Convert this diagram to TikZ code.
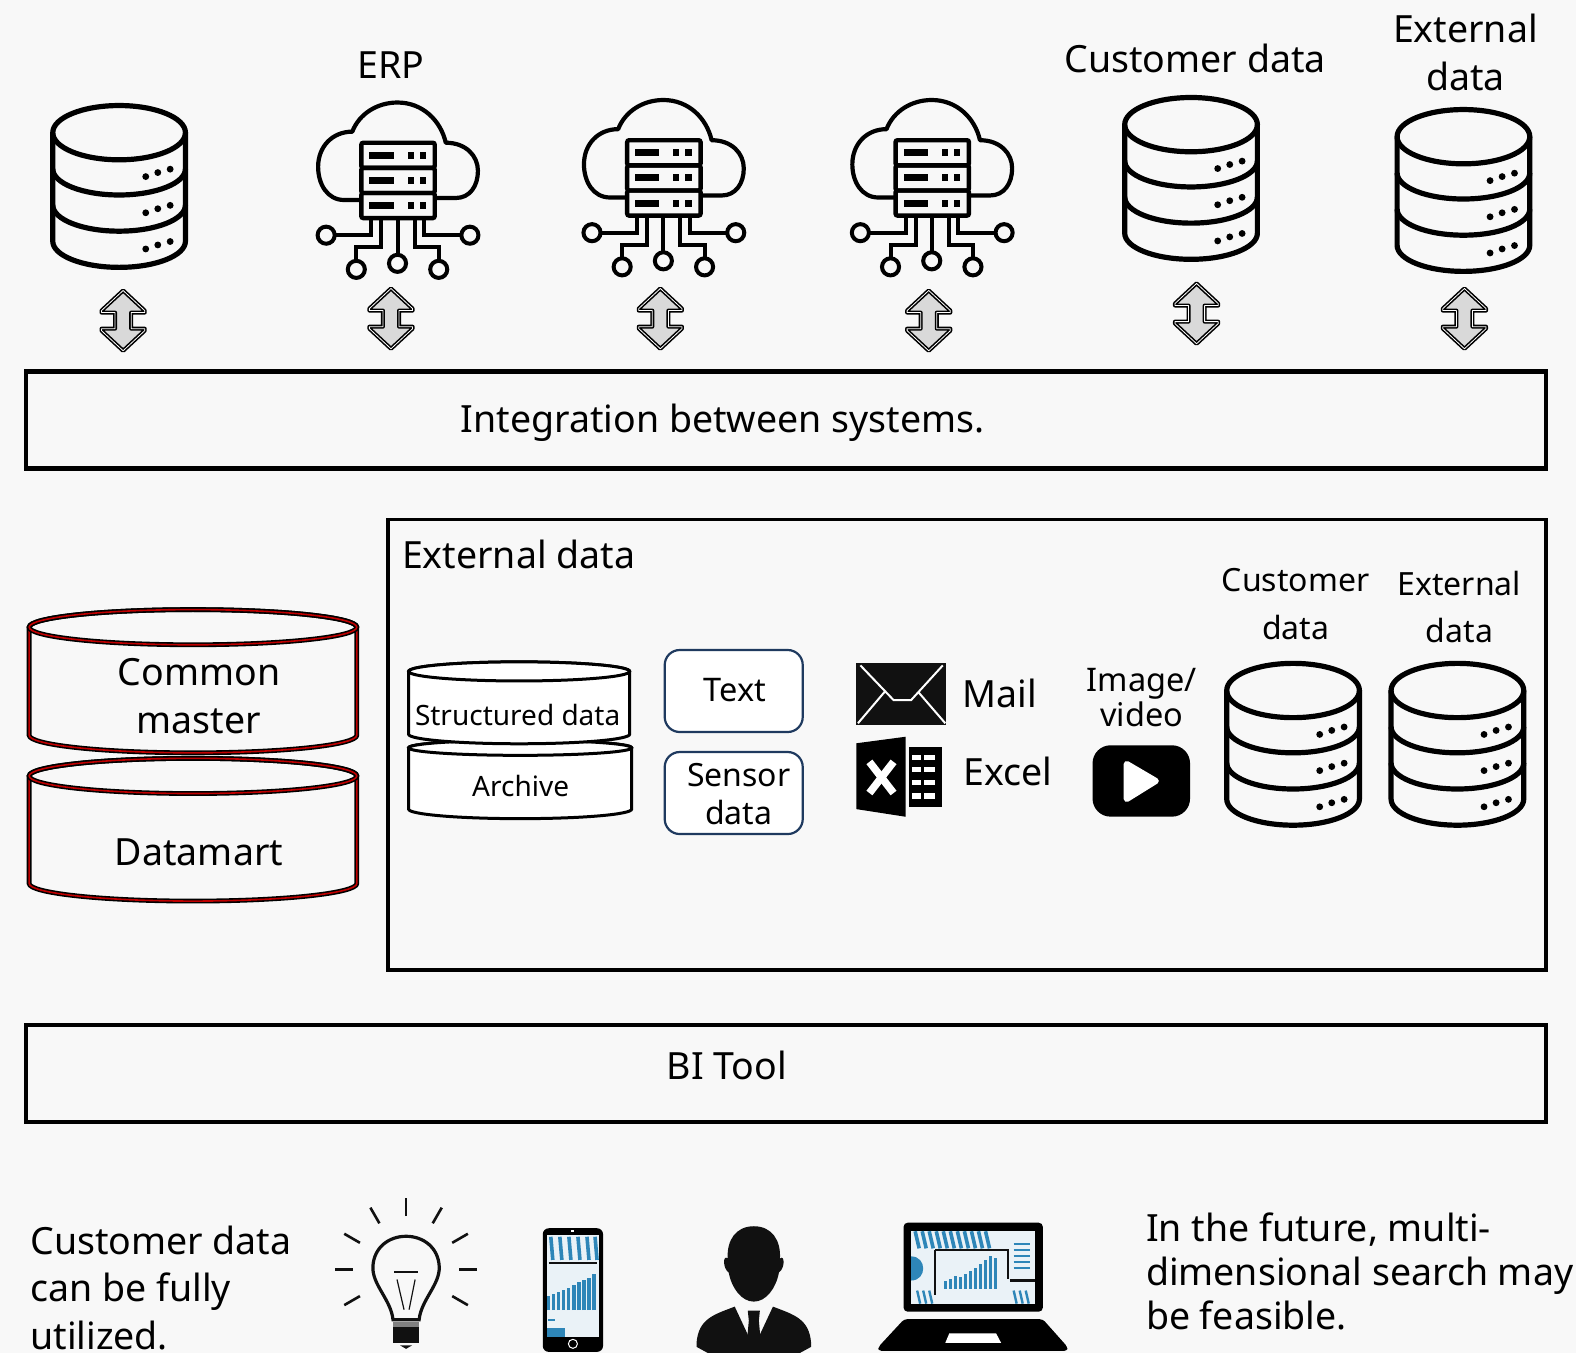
\documentclass[tikz,border=0pt]{standalone}
\usepackage{fontspec}
\setmainfont{Noto Sans}

\definecolor{pagebg}{HTML}{F8F8F8}
\definecolor{navyline}{HTML}{1F3A5F}
\definecolor{redcore}{HTML}{C00000}
\definecolor{chartbar}{HTML}{2E86B8}
\definecolor{chartbg}{HTML}{EAF2F7}
\definecolor{iconblack}{HTML}{111111}

\newcommand{\drumbody}[7]{
    \draw[#1] (#2-#4,#3) -- (#2-#4,#6) arc [start angle=180, end angle=0, x radius=#4, y radius=#7] -- (#2+#4,#3)
        arc [start angle=0, end angle=-180, x radius=#4, y radius=#5] -- cycle;
    \draw[#1] (#2,#3) ellipse [x radius=#4, y radius=#5];
}

\tikzset{
    bigtext/.style={font=\fontsize{37.5}{48}\selectfont, align=center, inner sep=0pt},
    smalltext/.style={font=\fontsize{32.5}{35}\selectfont, align=center, inner sep=0pt},
    tinytext/.style={font=\fontsize{32}{47.5}\selectfont, align=center, inner sep=0pt},
    cyltext/.style={font=\fontsize{28}{30}\selectfont, inner sep=0pt},
    leftnote/.style={font=\fontsize{37.5}{47.5}\selectfont, align=left, inner sep=0pt},
    rightnote/.style={font=\fontsize{37.5}{44}\selectfont, align=left, inner sep=0pt},
    widebox/.style={draw, line width=4.5pt, minimum width=1520pt, minimum height=97pt, inner sep=0pt},
    redline/.style={draw=black, double=redcore, double distance=1.6pt, line width=1.6pt},
    whiteline/.style={draw=black, fill=white, line width=3pt},
    softbox/.style={draw=navyline, fill=white, line width=2.2pt, rounded corners=15pt,
        minimum width=138pt, minimum height=82pt, inner sep=0pt},
    updown/.pic={
        \draw[fill=gray!30, line width=1.6pt, double=white, double distance=0.8pt, line join=round]
            (0,-30) -- (21.5,-10) -- (21.5,-8) -- (8,-8) -- (8,8) -- (21.5,8) -- (21.5,10)
            -- (0,30) -- (-21.5,10) -- (-21.5,8) -- (-8,8) -- (-8,-8) -- (-21.5,-8) -- (-21.5,-10) -- cycle;
    },
    dbicon/.pic={
        \draw[line width=5.2pt] (0,-54) ellipse [x radius=66, y radius=27];
        \draw[line width=5.2pt] (-66,-54) -- (-66,54) arc [start angle=180, end angle=0, x radius=66, y radius=26] -- (66,-54);
        \foreach \yy in {-18, 18} {
            \draw[line width=5.2pt] (-66,\yy) arc [start angle=180, end angle=0, x radius=66, y radius=26];
        }
        \foreach \yy in {0, 36, 72} {
            \fill (26.5,\yy-10.3) circle (3.4);
            \fill (38.5,\yy-14.3) circle (3.4);
            \fill (50.8,\yy-17.7) circle (3.4);
        }
    },
    cloudicon/.pic={
        \draw[line width=4.2pt, line join=round] (-36,11) -- (-53,11)
            .. controls (-70,11) and (-79,-5) .. (-79,-22)
            .. controls (-79,-42) and (-65,-57) .. (-45,-57)
            .. controls (-38,-75) and (-20,-86) .. (0,-86)
            .. controls (25,-86) and (43,-68) .. (48,-46)
            .. controls (68,-46) and (80,-33) .. (80,-18)
            .. controls (80,-3) and (72,9) .. (58,9) -- (37,9);
        \foreach \yy in {-46, -21, 4} {
            \draw[line width=4.4pt, rounded corners=2pt] (-36,\yy) rectangle (37,\yy+25);
            \fill (-28,\yy+12.5-3.5) rectangle (-4,\yy+12.5+3.5);
            \fill (10,\yy+12.5-3.5) rectangle (16,\yy+12.5+3.5);
            \fill (22,\yy+12.5-3.5) rectangle (28,\yy+12.5+3.5);
        }
        \draw[line width=4pt] (-26,29) -- (-26,46) -- (-62,46);
        \draw[line width=4pt] (-16,29) -- (-16,58) -- (-41,58) -- (-41,71);
        \draw[line width=4pt] (0,29) -- (0,65);
        \draw[line width=4pt] (17,29) -- (17,58) -- (41,58) -- (41,71);
        \draw[line width=4pt] (26,29) -- (26,46) -- (63,46);
        \draw[line width=4pt] (-71,46) circle (8.5);
        \draw[line width=4pt] (-41,80) circle (8.5);
        \draw[line width=4pt] (0,74) circle (8.5);
        \draw[line width=4pt] (41,80) circle (8.5);
        \draw[line width=4pt] (72,46) circle (8.5);
    },
    bulbicon/.pic={
        \foreach \ang in {0, 30, 60, 90, 120, 150, 180, 210, 330} {
            \draw[line width=2.6pt, iconblack] (\ang:53 and -53) -- (\ang:71 and -71);
        }
        \draw[line width=3.2pt, iconblack] (-13,50) .. controls (-15,30) and (-34,15) .. (-33,-3)
            .. controls (-32,-22) and (-17,-33) .. (0,-33)
            .. controls (17,-33) and (32,-22) .. (33,-3)
            .. controls (34,15) and (15,30) .. (13,50) -- cycle;
        \draw[line width=2pt, iconblack] (-12,3) -- (12,3);
        \draw[line width=1.2pt, iconblack] (-9,10) -- (-2,40);
        \draw[line width=1.2pt, iconblack] (9,10) -- (3,40);
        \fill[iconblack] (-13,57) rectangle (13,73);
        \fill[gray] (-13,52) rectangle (13,57);
        \fill[iconblack] (-6,75.5) -- (6,75.5) -- (0,79) -- cycle;
    },
    phoneicon/.pic={
        \fill[rounded corners=6pt, black] (-30,-61.5) rectangle (30,61.5);
        \fill[chartbg] (-26,-54.5) rectangle (26,46.5);
        \foreach \xx in {-22, -13, -4, 5, 14, 22} {
            \draw[line width=3.6pt, chartbar] (\xx,-53) -- (\xx+2,-30);
        }
        \draw[line width=1.2pt, iconblack] (-24,-27) -- (24,-27);
        \foreach \xx/\yy in {-24/6, -19/4, -14/2, -9/0, -4/-2, 1/-5, 6/-8, 11/-10, 16/-12, 21/-16} {
            \draw[line width=3.2pt, chartbar] (\xx,20) -- (\xx,\yy);
        }
        \draw[line width=2pt, chartbar] (-25,30) -- (-18,30);
        \fill[chartbar] (-26,38) rectangle (-8,46.5);
        \fill[white] (-1.5,-60) rectangle (1.5,-57.5);
        \draw[white, line width=1pt] (0,53.5) circle (4.5);
    },
    personicon/.pic={
        \fill[iconblack] (0,-38) .. controls (-18,-38) and (-27,-24) .. (-26,-6)
            .. controls (-31,-10) and (-31,4) .. (-25,8)
            .. controls (-22,24) and (-12,37) .. (0,37)
            .. controls (12,37) and (22,24) .. (25,8)
            .. controls (31,4) and (31,-10) .. (26,-6)
            .. controls (27,-24) and (18,-38) .. (0,-38) -- cycle;
        \fill[iconblack] (-19,42) -- (-5,72) -- (-3,52) -- (3,52) -- (5,72) -- (19,42)
            .. controls (40,50) and (55,54) .. (57,78)
            -- (57,82) -- (46,88) -- (-46,88) -- (-57,82) -- (-57,78)
            .. controls (-55,54) and (-40,50) .. (-19,42) -- cycle;
        \fill[iconblack] (-6,46) -- (6,46) -- (5,56) -- (7,78) -- (-7,78) -- (-5,56) -- cycle;
    },
    laptopicon/.pic={
        \fill[rounded corners=4pt, black] (-69.5,-63.5) rectangle (69,25);
        \fill[chartbg] (-62,-55) rectangle (61.5,17.5);
        \foreach \xx in {-58, -51, -44, -37, -30, -23, -16, -9, -2, 5, 12} {
            \draw[line width=3.6pt, chartbar] (\xx,-55) -- (\xx+4,-38);
        }
        \draw[line width=2pt, iconblack] (-38,-36) -- (34,-36) -- (34,-8);
        \draw[line width=2pt, iconblack] (-38,-36) -- (-38,8);
        \foreach \xx/\yy in {-28/-6, -23/-8, -18/-10, -13/-9, -8/-12, -3/-15, 2/-18, 7/-22, 12/-26, 17/-30, 22/-28} {
            \draw[line width=3.2pt, chartbar] (\xx,2) -- (\xx,\yy);
        }
        \fill[chartbar] (-62,-30) .. controls (-54,-30) and (-50,-24) .. (-50,-18) .. controls (-50,-12) and (-54,-6) .. (-62,-6) -- cycle;
        \foreach \yy in {-42, -36, -30, -24, -18} {
            \draw[line width=2pt, chartbar] (40,\yy) -- (56,\yy);
        }
        \draw[line width=2.4pt, iconblack] (36,-6) -- (61,-6);
        \foreach \xx in {-56, -50, -44, 40, 46, 52} {
            \draw[line width=2.4pt, chartbar] (\xx,4) -- (\xx+3,17);
        }
        \fill[black, rounded corners=3pt] (-69,32.5) -- (69,32.5) -- (93.5,60) -- (93.5,64) -- (-94.5,64) -- (-94.5,60) -- cycle;
        \fill[white] (-24,46.5) -- (22.5,46.5) -- (27.5,56) -- (-28,56) -- cycle;
    },
}

\begin{document}
\begin{tikzpicture}[x=1.005pt, y=-1.005pt]
    \fill[pagebg] (0,0) rectangle (1568,1346);
    \useasboundingbox (0,0) rectangle (1568,1346);

    \node[bigtext] (erp)      at (389, 65) {ERP};
    \node[bigtext] (custtop)  at (1189, 58) {Customer data};
    \node[bigtext] (exttop)   at (1458, 52) {External\\data};

    \pic (dbA) at (118.5, 186) {dbicon};
    \pic (cloudA) at (395.5, 188) {cloudicon};
    \pic (cloudB) at (660, 185.5) {cloudicon};
    \pic (cloudC) at (927, 185.5) {cloudicon};
    \pic (dbB) at (1185, 178) {dbicon};
    \pic (dbC) at (1456, 190) {dbicon};

    \pic (arrowA) at (122.5, 319) {updown};
    \pic (arrowB) at (389, 317) {updown};
    \pic (arrowC) at (657, 317) {updown};
    \pic (arrowD) at (924, 319) {updown};
    \pic (arrowE) at (1190.5, 312) {updown};
    \pic (arrowF) at (1457, 317) {updown};

    \node[widebox] (integration) at (782, 418) {};
    \node[bigtext] (integrationtext) at (719, 421) {Integration between systems.};

    \draw[line width=3.6pt] (386, 517) rectangle (1538, 965);
    \node[bigtext] (exttitle) at (516, 552) {External data};

    \drumbody{redline}{192}{624}{163}{17.5}{731.5}{17.5}
    \drumbody{redline}{192}{772}{163}{17.5}{879}{17.5}
    \node[bigtext] (mastertext) at (198, 693) {Common\\master};
    \node[bigtext] (datamarttext) at (198, 848) {Datamart};

    \drumbody{whiteline}{517.5}{744}{111}{7.5}{805}{9.5}
    \drumbody{whiteline}{516.5}{668}{110}{9.5}{730.5}{9.5}
    \node[cyltext] (structuredtext) at (515, 711) {Structured data};
    \node[cyltext] (archivetext) at (518, 782) {Archive};

    \node[softbox] (textbox) at (730, 687.5) {};
    \node[softbox] (sensorbox) at (730, 789) {};
    \node[smalltext] (texttext) at (731, 687) {Text};
    \node[smalltext, font=\fontsize{32}{38}\selectfont] (sensortext) at (735, 790) {Sensor\\data};

    \fill[iconblack] (852, 660) rectangle (941, 721);
    \draw[white, line width=2pt] (856, 662) -- (889, 696.5) -- (906.5, 696.5) -- (938, 662);
    \draw[white, line width=2pt] (853.6, 719.6) -- (880, 688.5);
    \draw[white, line width=2pt] (940.5, 719.6) -- (913.6, 688.5);
    \node[bigtext] (mailtext) at (995, 690) {Mail};

    \fill[black] (852, 739.5) -- (901, 733) -- (901, 812.6) -- (852, 805) -- cycle;
    \draw[white, line width=7.5pt] (865, 758) -- (889, 789);
    \draw[white, line width=7.5pt] (889, 758) -- (865, 789);
    \fill[black] (904.5, 743) rectangle (937, 803);
    \foreach \yy in {751, 763, 776, 789} {
        \fill[white] (907, \yy) rectangle (916, \yy+5.5);
        \fill[white] (919.5, \yy) rectangle (930.5, \yy+5.5);
    }
    \node[bigtext] (exceltext) at (1003, 768) {Excel};

    \node[smalltext] (imagetext) at (1136, 694.5) {Image/\\video};
    \fill[black, rounded corners=18pt] (1087, 741.5) rectangle (1184, 812.5);
    \fill[white, draw=white, line width=6pt, line join=round] (1121, 760) -- (1150, 777) -- (1121, 795) -- cycle;

    \node[tinytext] (custinner) at (1289, 601) {Customer\\data};
    \node[tinytext] (extinner) at (1452, 604) {External\\data};
    \pic (dbD) at (1286.5, 741) {dbicon};
    \pic (dbE) at (1450, 741) {dbicon};

    \node[widebox] (bitool) at (782, 1068) {};
    \node[bigtext] (bitooltext) at (723, 1060) {BI Tool};

    \node[leftnote, anchor=west] (leftnotetext) at (30, 1281) {Customer data\\can be fully\\utilized.};
    \pic (bulb) at (404, 1263) {bulbicon};
    \pic (phone) at (570, 1283.5) {phoneicon};
    \pic (person) at (750, 1258) {personicon};
    \pic (laptop) at (968.5, 1280) {laptopicon};
    \node[rightnote, anchor=west] (rightnotetext) at (1140, 1265) {In the future, multi-\\dimensional search may\\be feasible.};
\end{tikzpicture}
\end{document}
